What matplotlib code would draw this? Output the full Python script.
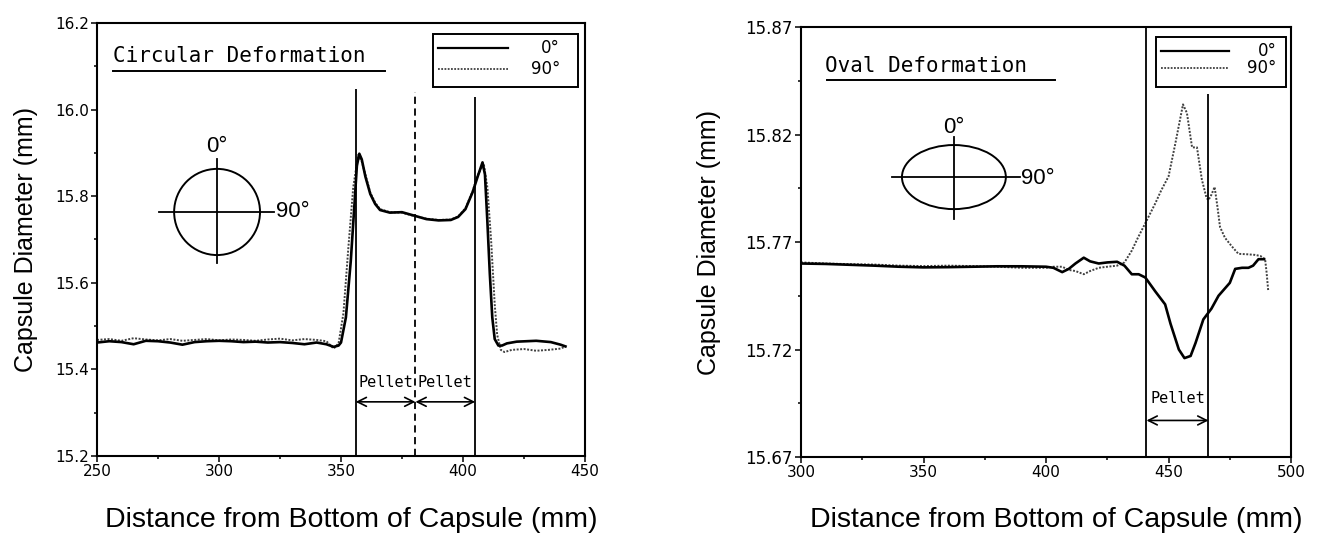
import matplotlib
matplotlib.use("Agg")
import matplotlib.pyplot as plt
from matplotlib.patches import Ellipse, Rectangle
from matplotlib.ticker import MultipleLocator, FixedLocator, FormatStrFormatter

# ---- circular deformation (left) ----
circ_x_0 = [250, 255, 260, 265, 270, 275, 280, 285, 290, 295, 300, 305, 310, 315, 320, 325, 330, 335,
            340, 344, 347, 349, 350, 352, 354, 355.5, 356.5, 357.5, 358.5, 360, 362, 364, 366, 370, 375,
            380, 385, 390, 395, 398, 401, 404, 406, 408, 409, 410, 411, 412, 413, 414.5, 416, 418, 422,
            430, 436, 440, 442]
circ_y_0 = [15.462, 15.465, 15.463, 15.458, 15.466, 15.465, 15.462, 15.457, 15.463, 15.465, 15.466, 15.465,
            15.463, 15.464, 15.462, 15.463, 15.461, 15.458, 15.462, 15.458, 15.452, 15.455, 15.462, 15.52,
            15.65, 15.78, 15.87, 15.898, 15.885, 15.845, 15.805, 15.782, 15.768, 15.762, 15.763, 15.755,
            15.747, 15.744, 15.745, 15.752, 15.770, 15.810, 15.845, 15.878, 15.850, 15.740, 15.620, 15.520,
            15.470, 15.455, 15.455, 15.460, 15.464, 15.466, 15.463, 15.457, 15.453]

circ_x_90 = [250, 255, 260, 265, 270, 275, 280, 285, 290, 295, 300, 305, 310, 315, 320, 325, 330, 335,
             340, 344, 347, 349, 351, 353, 355, 357, 358.5, 360, 362, 364, 366, 370, 375, 380, 385, 390,
             395, 398, 401, 404, 406, 408.5, 410, 411.5, 413, 414, 415.5, 417, 420, 425, 430, 435, 440, 442]
circ_y_90 = [15.468, 15.470, 15.466, 15.472, 15.469, 15.467, 15.470, 15.466, 15.468, 15.470, 15.467, 15.469,
             15.468, 15.466, 15.469, 15.471, 15.467, 15.470, 15.468, 15.465, 15.448, 15.460, 15.530, 15.680,
             15.820, 15.895, 15.880, 15.850, 15.808, 15.785, 15.770, 15.763, 15.762, 15.754, 15.748, 15.745,
             15.746, 15.753, 15.772, 15.812, 15.848, 15.875, 15.820, 15.700, 15.550, 15.480, 15.445, 15.440,
             15.445, 15.447, 15.443, 15.445, 15.448, 15.453]

circ_pellets = [356, 380.5, 405]

# ---- oval deformation (right) ----
oval_x_0 = [300, 310, 320, 330, 340, 350, 360, 370, 380, 390, 400, 403, 406.6, 409.3, 412, 415.4, 418,
            421.5, 425, 429, 432, 435, 437.8, 440.5, 444.6, 448.6, 450.8, 454.2, 456.5, 459, 461, 464.2,
            467.5, 470.4, 475, 477.2, 480, 482.6, 484.5, 486.7, 489]
oval_y_0 = [15.7600, 15.7598, 15.7594, 15.7590, 15.7585, 15.7582, 15.7583, 15.7585, 15.7587, 15.7587,
            15.7585, 15.7580, 15.7560, 15.7575, 15.7600, 15.7627, 15.7610, 15.7600, 15.7605, 15.7608,
            15.7590, 15.7550, 15.7550, 15.7535, 15.7470, 15.7410, 15.7320, 15.7200, 15.7160, 15.7170,
            15.7230, 15.7340, 15.7390, 15.7450, 15.7510, 15.7575, 15.7580, 15.7580, 15.7590, 15.7620,
            15.7620]

oval_x_90 = [300, 310, 320, 330, 340, 350, 360, 370, 380, 390, 400, 403, 406.6, 409.3, 412, 415.4, 418,
             421.5, 425, 429, 432, 435, 437.5, 440.5, 444.6, 447, 450, 452.8, 455.9, 457.5, 459.6, 461.6,
             463.6, 465.5, 466.3, 467.5, 468.8, 470, 471, 473, 475.8, 478.5, 482, 485.3, 487.5, 489.4,
             490, 490.7]
oval_y_90 = [15.7605, 15.7600, 15.7597, 15.7595, 15.7590, 15.7588, 15.7590, 15.7588, 15.7585, 15.7580,
             15.7580, 15.7585, 15.7585, 15.7570, 15.7565, 15.7550, 15.7565, 15.7580, 15.7585, 15.7590,
             15.7605, 15.7660, 15.7720, 15.7787, 15.7880, 15.7940, 15.8005, 15.8160, 15.8340, 15.8300,
             15.8140, 15.8140, 15.7990, 15.7905, 15.7895, 15.7920, 15.7956, 15.7860, 15.7770, 15.7720,
             15.7680, 15.7645, 15.7643, 15.7640, 15.7635, 15.7620, 15.7560, 15.7470]

oval_pellet = [441, 466.3]
oval_yticks = [15.67, 15.72, 15.77, 15.82, 15.87]
oval_yminor = [15.695, 15.745, 15.795, 15.845]

x_label = "Distance from Bottom of Capsule (mm)"
y_label = "Capsule Diameter (mm)"
legend_labels = ["0°", "90°"]

dotted = (0, (1, 0.8))
mono = "DejaVu Sans Mono"

fig = plt.figure(figsize=(13.22, 5.4), dpi=100)
ax1 = fig.add_axes([0.0734, 0.1556, 0.3691, 0.8019])
ax2 = fig.add_axes([0.6059, 0.1537, 0.3707, 0.7963])


def style_axes(ax):
    for s in ax.spines.values():
        s.set_linewidth(1.5)
    ax.tick_params(which="both", direction="out", width=1.1, labelsize=11, pad=2)
    ax.tick_params(which="major", length=4)
    ax.tick_params(which="minor", length=2.5)
    ax.set_xlabel(x_label, fontsize=20.5, family="Liberation Sans", va="center")
    ax.set_ylabel(y_label, fontsize=18, family="Liberation Sans", va="center")


def draw_legend(ax, x0, x1, y0, y1, lx0, lx1, ly_a, ly_b, tx):
    ax.add_patch(Rectangle((x0, y0), x1 - x0, y1 - y0, transform=ax.transAxes,
                           fill=False, lw=1.4, ec="black", zorder=5))
    ax.plot([lx0, lx1], [ly_a, ly_a], color="black", lw=1.6, transform=ax.transAxes, zorder=5)
    ax.plot([lx0, lx1], [ly_b, ly_b], color="0.25", lw=1.3, ls=dotted, transform=ax.transAxes, zorder=5)
    ax.text(tx, ly_a, legend_labels[0], transform=ax.transAxes, ha="right", va="center", fontsize=12)
    ax.text(tx, ly_b, legend_labels[1], transform=ax.transAxes, ha="right", va="center", fontsize=12)


# left panel
ax1.plot(circ_x_90, circ_y_90, color="0.25", lw=1.4, ls=dotted)
ax1.plot(circ_x_0, circ_y_0, color="black", lw=1.9)
ax1.vlines([circ_pellets[0]], 15.2, 16.048, color="black", lw=1.3)
ax1.vlines([circ_pellets[2]], 15.2, 16.03, color="black", lw=1.3)
ax1.vlines([circ_pellets[1]], 15.2, 16.04, color="black", lw=1.3, linestyles=(0, (4, 2.5)))
for a, b in [(circ_pellets[0], circ_pellets[1]), (circ_pellets[1], circ_pellets[2])]:
    ax1.annotate("", xy=(a, 15.325), xytext=(b, 15.325),
                 arrowprops=dict(arrowstyle="<->", lw=1.2, color="black", shrinkA=0, shrinkB=0,
                                 mutation_scale=16))
    ax1.text((a + b) / 2, 15.37, "Pellet", ha="center", va="center", fontsize=11, family=mono)
ax1.set_xlim(250, 450)
ax1.set_ylim(15.2, 16.2)
ax1.xaxis.set_major_locator(MultipleLocator(50))
ax1.xaxis.set_minor_locator(MultipleLocator(25))
ax1.yaxis.set_major_locator(MultipleLocator(0.2))
ax1.yaxis.set_minor_locator(MultipleLocator(0.1))
ax1.yaxis.set_major_formatter(FormatStrFormatter("%.1f"))
style_axes(ax1)
ax1.yaxis.set_label_coords(-0.145, 0.5)
ax1.xaxis.set_label_coords(0.52, -0.148)

ax1.text(0.033, 0.924, "Circular Deformation", transform=ax1.transAxes, ha="left", va="center",
         fontsize=15, family=mono)
ax1.plot([0.033, 0.59], [0.889, 0.889], color="black", lw=1.4, transform=ax1.transAxes)
draw_legend(ax1, 0.689, 0.986, 0.852, 0.975, 0.699, 0.842, 0.942, 0.894, 0.949)

ax1.add_patch(Ellipse((0.246, 0.5635), 0.176, 0.199, transform=ax1.transAxes,
                      fill=False, lw=1.4, ec="black"))
ax1.plot([0.127, 0.363], [0.5635, 0.5635], color="black", lw=1.3, transform=ax1.transAxes)
ax1.plot([0.246, 0.246], [0.446, 0.686], color="black", lw=1.3, transform=ax1.transAxes)
ax1.text(0.246, 0.714, "0°", transform=ax1.transAxes, ha="center", va="center", fontsize=16,
         family="Liberation Sans")
ax1.text(0.366, 0.5635, "90°", transform=ax1.transAxes, ha="left", va="center", fontsize=16,
         family="Liberation Sans")

# right panel
ax2.plot(oval_x_90, oval_y_90, color="0.25", lw=1.4, ls=dotted)
ax2.plot(oval_x_0, oval_y_0, color="black", lw=1.9)
ax2.vlines([oval_pellet[0]], 15.67, 15.87, color="black", lw=1.3)
ax2.vlines([oval_pellet[1]], 15.67, 15.839, color="black", lw=1.3)
ax2.annotate("", xy=(oval_pellet[0], 15.687), xytext=(oval_pellet[1], 15.687),
             arrowprops=dict(arrowstyle="<->", lw=1.2, color="black", shrinkA=0, shrinkB=0,
                             mutation_scale=16))
ax2.text(sum(oval_pellet) / 2, 15.697, "Pellet", ha="center", va="center", fontsize=11, family=mono)
ax2.set_xlim(300, 500)
ax2.set_ylim(15.67, 15.87)
ax2.xaxis.set_major_locator(MultipleLocator(50))
ax2.xaxis.set_minor_locator(MultipleLocator(25))
ax2.yaxis.set_major_locator(FixedLocator(oval_yticks))
ax2.yaxis.set_minor_locator(FixedLocator(oval_yminor))
ax2.yaxis.set_major_formatter(FormatStrFormatter("%.2f"))
style_axes(ax2)
ax2.tick_params(axis="y", labelsize=12)
ax2.yaxis.set_label_coords(-0.188, 0.5)
ax2.xaxis.set_label_coords(0.52, -0.147)

ax2.text(0.049, 0.909, "Oval Deformation", transform=ax2.transAxes, ha="left", va="center",
         fontsize=15, family=mono)
ax2.plot([0.053, 0.518], [0.877, 0.877], color="black", lw=1.4, transform=ax2.transAxes)
draw_legend(ax2, 0.724, 0.990, 0.860, 0.977, 0.735, 0.873, 0.944, 0.905, 0.971)

ax2.add_patch(Ellipse((0.312, 0.651), 0.212, 0.149, transform=ax2.transAxes,
                      fill=False, lw=1.4, ec="black"))
ax2.plot([0.186, 0.447], [0.651, 0.651], color="black", lw=1.3, transform=ax2.transAxes)
ax2.plot([0.312, 0.312], [0.553, 0.744], color="black", lw=1.3, transform=ax2.transAxes)
ax2.text(0.312, 0.767, "0°", transform=ax2.transAxes, ha="center", va="center", fontsize=16,
         family="Liberation Sans")
ax2.text(0.449, 0.647, "90°", transform=ax2.transAxes, ha="left", va="center", fontsize=16,
         family="Liberation Sans")

fig.savefig("out.png", dpi=100)
plt.close(fig)
